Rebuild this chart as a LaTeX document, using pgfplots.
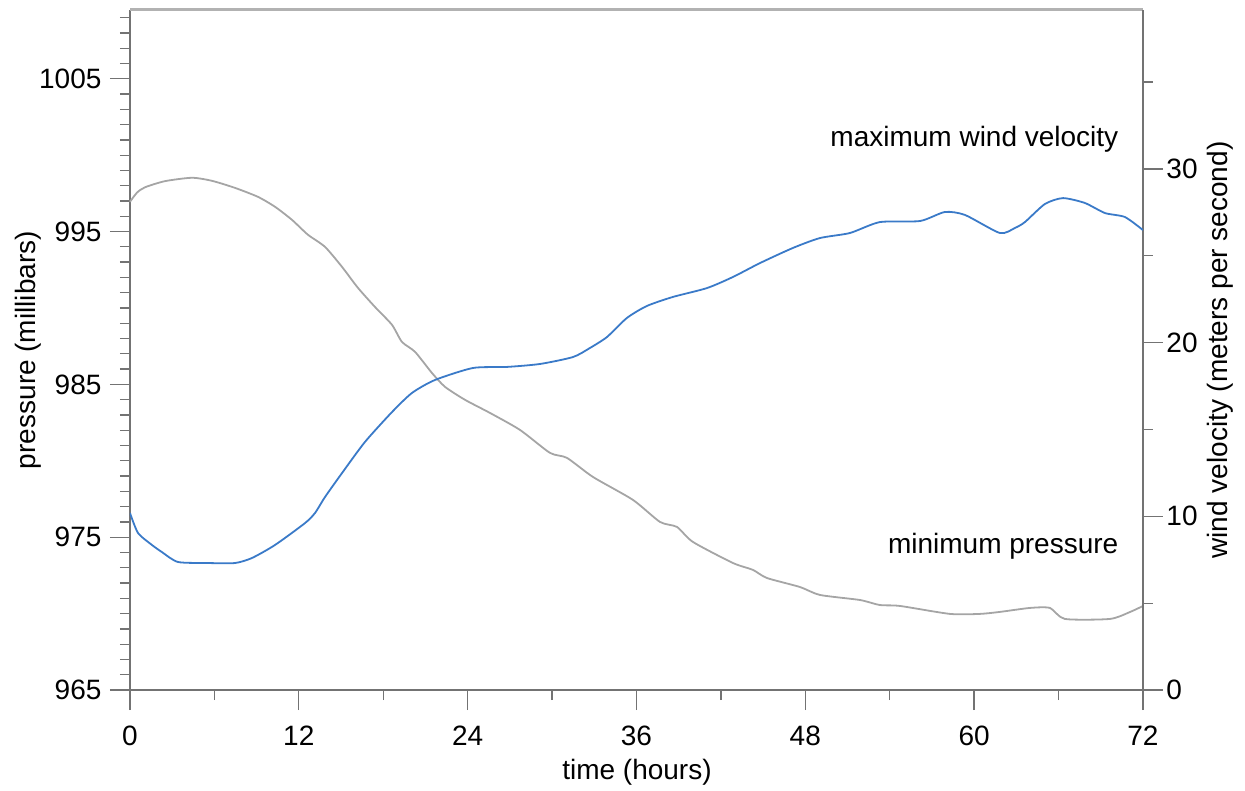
\documentclass[border=0pt]{standalone}
\usepackage{fontspec}
\setmainfont{Liberation Sans}
\usepackage{pgfplots}
\usepackage{pgfplotstable}
\pgfplotsset{compat=1.18}
\definecolor{axgray}{RGB}{115,115,115}
\definecolor{topgray}{RGB}{178,178,178}
\definecolor{windblue}{RGB}{58,122,200}
\definecolor{presgray}{RGB}{165,165,165}
\newcommand{\bigfont}{\fontsize{28}{34}\selectfont}

\pgfplotstableread{
t p
0.00 996.95
0.50 997.55
1.07 997.90
2.49 998.30
4.41 998.52
5.83 998.32
7.46 997.86
9.10 997.27
10.31 996.62
11.51 995.77
12.65 994.79
13.86 994.00
15.07 992.69
16.20 991.32
17.41 990.07
18.62 988.90
19.33 987.78
20.26 987.13
21.46 985.75
22.39 984.84
23.81 983.99
25.59 983.13
27.72 982.02
29.85 980.52
31.06 980.19
32.91 978.94
35.75 977.44
37.67 976.00
38.88 975.67
40.01 974.69
42.86 973.31
44.28 972.86
45.27 972.33
47.62 971.74
49.04 971.22
51.88 970.89
53.30 970.56
54.73 970.50
58.28 969.98
60.41 969.98
61.83 970.11
63.97 970.37
65.39 970.37
66.45 969.65
69.65 969.65
71.07 970.10
72.00 970.50
}\pres

\pgfplotstableread{
t w
0.00 10.19
0.57 9.04
1.56 8.35
2.27 7.94
3.41 7.37
5.54 7.31
7.46 7.31
8.67 7.60
10.31 8.35
12.44 9.61
13.15 10.19
13.86 11.11
15.07 12.49
16.70 14.28
18.62 16.00
20.04 17.10
21.68 17.85
24.38 18.54
26.79 18.60
29.14 18.77
31.49 19.17
32.69 19.69
33.90 20.32
35.32 21.42
36.74 22.11
38.59 22.63
41.01 23.14
42.86 23.78
44.78 24.58
47.12 25.45
49.04 26.02
51.17 26.31
53.30 26.94
56.15 27.00
57.92 27.52
59.35 27.35
61.83 26.31
62.90 26.60
63.61 26.94
65.03 27.98
66.31 28.32
67.87 28.04
69.30 27.46
70.72 27.23
72.00 26.48
}\wind

\pgfplotsset{mystyle/.style={
  scale only axis, width=1013pt, height=680pt,
  xmin=0, xmax=72,
  tick align=outside, major tick length=20pt, minor tick length=10pt,
  every tick/.style={axgray, line width=1.3pt},
  axis line style={axgray, line width=1.3pt},
  tick label style={font=\bigfont, text=black},
  label style={font=\bigfont},
  /pgf/number format/assume math mode=true,
  /pgf/number format/1000 sep={},
}}

\begin{document}
\begin{tikzpicture}
\useasboundingbox (-130pt,-100pt) rectangle (1115pt,690pt);
\begin{axis}[mystyle, clip=false,
  axis x line*=bottom, axis y line*=left,
  ymin=965, ymax=1009.5,
  xtick={0,12,...,72}, minor xtick={6,18,...,66},
  ytick={965,975,...,1005}, minor ytick={966,967,...,1009},
  xticklabel style={yshift=-12pt},
  yticklabel style={xshift=-5pt},
  xlabel={time (hours)},
  ylabel={pressure (millibars)},
  xlabel style={at={(axis description cs:0.5005,-0.1206)}, anchor=center},
  ylabel style={at={(axis description cs:-0.1007,0.5)}, anchor=center},
]
\draw[topgray, line width=3pt] (rel axis cs:0,1) -- (rel axis cs:1,1);
\addplot[presgray, line width=1.8pt, smooth, tension=0.4] table[x=t,y=p] {\pres};
\node[anchor=east, font=\bigfont] at (axis cs:70.5,974.4) {minimum pressure};
\end{axis}
\begin{axis}[mystyle,
  axis x line=none, axis y line*=right,
  ymin=0, ymax=39.15,
  ytick={0,10,20,30}, minor ytick={5,15,25,35},
  ylabel={wind velocity (meters per second)},
  ylabel style={at={(axis description cs:1.076,0.5)}, anchor=center, rotate=0},
]
\addplot[windblue, line width=1.8pt, smooth, tension=0.4] table[x=t,y=w] {\wind};
\node[anchor=east, font=\bigfont] at (axis cs:70.5,31.7) {maximum wind velocity};
\end{axis}
\end{tikzpicture}
\end{document}
